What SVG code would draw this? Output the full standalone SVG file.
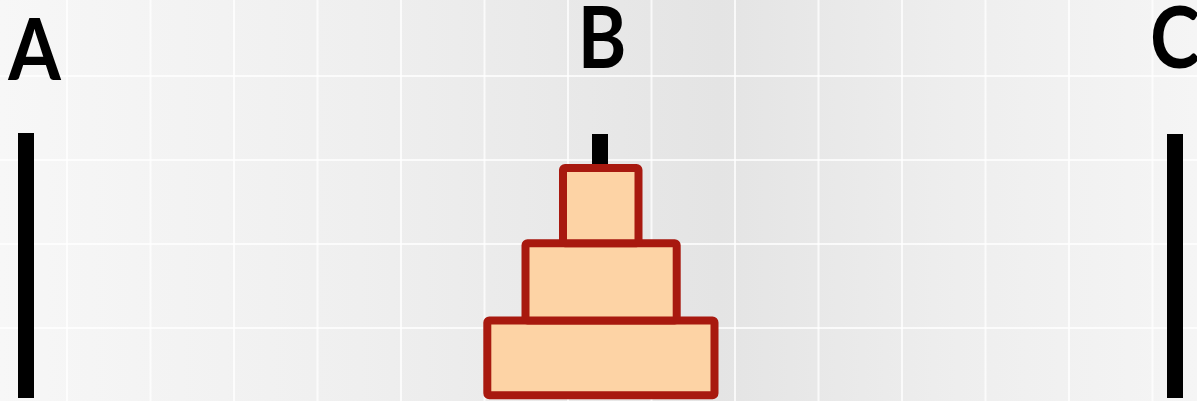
<svg xmlns="http://www.w3.org/2000/svg" width="1197" height="401" viewBox="0 0 1197 401">
<defs>
<linearGradient id="bg" x1="0" y1="0" x2="1" y2="0">
<stop offset="0" stop-color="#f7f7f7"/>
<stop offset="0.3" stop-color="#efefef"/>
<stop offset="0.6" stop-color="#e4e4e4"/>
<stop offset="0.8" stop-color="#eeeeee"/>
<stop offset="1" stop-color="#f5f5f5"/>
</linearGradient>
</defs>
<style>
.grid line{stroke:#ffffff;stroke-width:2;stroke-opacity:0.75}
.peg{fill:#000000}
.disk{fill:#fdd3a5;stroke:#a8190f;stroke-width:8;stroke-linejoin:round}
.lbl{font-family:Lato,"Open Sans","Liberation Sans",sans-serif;font-weight:bold;font-size:86px;fill:#000000;text-anchor:middle}
</style>
<rect width="1197" height="401" fill="url(#bg)"/>
<g class="grid">
<line x1="67" y1="0" x2="67" y2="401"/>
<line x1="150.5" y1="0" x2="150.5" y2="401"/>
<line x1="234" y1="0" x2="234" y2="401"/>
<line x1="317.5" y1="0" x2="317.5" y2="401"/>
<line x1="401" y1="0" x2="401" y2="401"/>
<line x1="484.5" y1="0" x2="484.5" y2="401"/>
<line x1="568" y1="0" x2="568" y2="401"/>
<line x1="651.5" y1="0" x2="651.5" y2="401"/>
<line x1="735" y1="0" x2="735" y2="401"/>
<line x1="818.5" y1="0" x2="818.5" y2="401"/>
<line x1="902" y1="0" x2="902" y2="401"/>
<line x1="985.5" y1="0" x2="985.5" y2="401"/>
<line x1="1069" y1="0" x2="1069" y2="401"/>
<line x1="1152.5" y1="0" x2="1152.5" y2="401"/>
<line x1="0" y1="76" x2="1197" y2="76"/>
<line x1="0" y1="160" x2="1197" y2="160"/>
<line x1="0" y1="244" x2="1197" y2="244"/>
<line x1="0" y1="328" x2="1197" y2="328"/>
</g>
<g id="pegA">
<rect class="peg" x="18" y="133" width="16" height="265"/>
<text class="lbl" transform="translate(34.5,80) scale(0.88,1)">A</text>
</g>
<g id="pegB">
<rect class="peg" x="592" y="134" width="16" height="40"/>
<text class="lbl" transform="translate(602,68) scale(0.86,1)">B</text>
</g>
<g id="pegC">
<rect class="peg" x="1167" y="134" width="16" height="264"/>
<text class="lbl" transform="translate(1175,68) scale(0.88,1)">C</text>
</g>
<g id="disk3">
<rect class="disk" x="487.3" y="320.5" width="227.2" height="74.8" rx="2"/>
</g>
<g id="disk2">
<rect class="disk" x="525.5" y="243.3" width="151.2" height="77.2" rx="2"/>
</g>
<g id="disk1">
<rect class="disk" x="563" y="168" width="75.5" height="75.3" rx="2"/>
</g>
<g id="connectors"></g>
</svg>
